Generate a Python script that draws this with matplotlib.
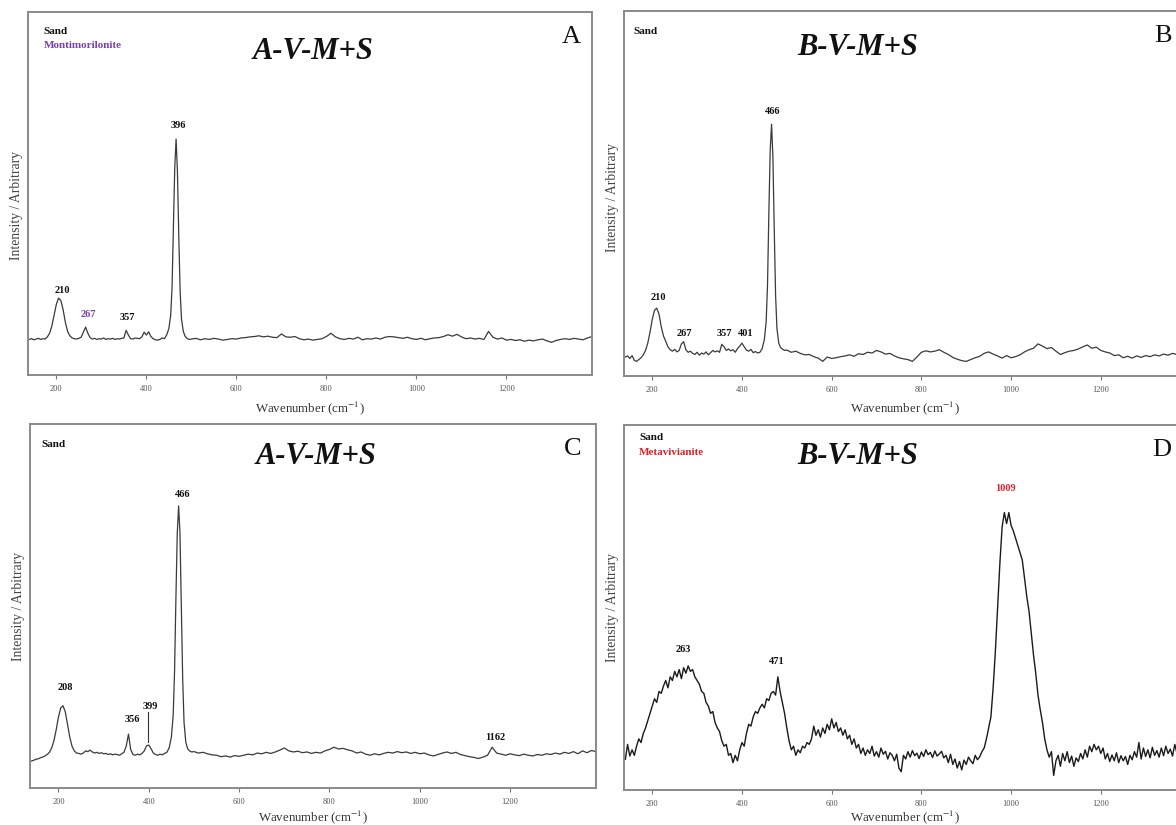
import numpy as np
import matplotlib
matplotlib.use("Agg")
import matplotlib.pyplot as plt

plt.rcParams['font.family'] = ['Liberation Serif', 'DejaVu Serif']
plt.rcParams['mathtext.fontset'] = 'stix'

# ---------------- data (wavenumber cm-1, intensity as % of axis height) -------------
seg1_x = list(range(140, 440, 5))
seg2_x = [440, 445, 450, 454, 457, 460, 463, 466, 469, 472, 475, 478, 482, 486, 490, 495]
seg3_x = list(range(500, 1400, 10))
wn_abc = seg1_x + seg2_x + seg3_x

a_int = [
    # 140..435
    9.8, 10.0, 9.7, 9.9, 10.1, 9.8, 10.0, 9.9, 10.5, 11.5, 13.5, 16.5, 19.5, 21.2, 20.5, 18.0,
    14.5, 12.0, 10.8, 10.2, 10.0, 9.9, 10.1, 10.4, 11.8, 13.2, 11.5, 10.3, 9.9, 10.1, 9.8, 10.0,
    9.9, 10.2, 9.8, 10.0, 9.9, 10.1, 9.8, 10.0, 9.9, 10.1, 10.2, 12.3, 11.0, 10.0, 9.9, 10.2,
    10.1, 10.0, 10.5, 11.8, 11.0, 11.9, 10.6, 10.0, 9.7, 9.6, 9.8, 10.2,
    # 440..495
    10.0, 11.0, 12.8, 16.5, 24.0, 40.0, 57.0, 65.0, 56.0, 38.0, 23.0, 15.5, 12.0, 10.7, 10.1, 9.8,
    # 500..1390
    9.9, 10.1, 9.7, 10.0, 9.8, 10.1, 9.9, 9.6, 9.8, 10.0, 9.9, 10.2, 10.3, 10.5, 10.6, 10.8,
    10.5, 10.7, 10.4, 10.3, 11.3, 10.5, 10.4, 10.6, 10.0, 9.7, 9.9, 9.6, 9.8, 10.0, 10.6, 11.5,
    10.5, 10.0, 9.8, 10.1, 9.9, 10.4, 9.7, 10.0, 9.9, 10.2, 9.9, 10.4, 10.6, 10.5, 10.3, 10.1,
    10.4, 10.0, 9.8, 10.1, 9.7, 10.0, 10.2, 10.3, 10.6, 11.1, 10.7, 11.2, 10.5, 10.0, 10.2, 9.9,
    10.1, 9.8, 12.0, 10.4, 9.9, 10.2, 9.6, 9.8, 9.5, 9.7, 9.3, 9.6, 9.4, 9.7, 9.9, 9.4,
    9.0, 9.5, 9.8, 10.0, 9.8, 10.1, 9.9, 9.7, 10.2, 10.6,
]

b_int = [
    # 140..435
    5.2, 5.5, 4.8, 5.6, 4.3, 4.0, 4.5, 5.0, 5.8, 7.0, 9.0, 12.0, 15.5, 18.0, 18.6, 17.0,
    13.5, 11.0, 9.5, 8.0, 7.2, 6.8, 7.3, 6.6, 7.0, 8.8, 9.4, 7.2, 6.5, 6.8, 6.2, 5.9,
    6.5, 5.7, 6.3, 6.0, 6.6, 5.8, 6.4, 7.0, 6.6, 6.9, 6.5, 8.7, 8.0, 7.0, 7.4, 6.9,
    7.2, 6.5, 7.5, 8.2, 9.0, 8.0, 7.1, 6.8, 7.3, 6.4, 6.7, 6.3,
    # 440..495
    6.5, 7.5, 10.0, 15.0, 25.0, 45.0, 62.0, 69.0, 60.0, 40.0, 22.0, 13.0, 9.0, 7.8, 7.4, 7.0,
    # 500..1390
    7.1, 6.5, 6.8, 6.2, 5.8, 5.9, 5.3, 4.9, 4.0, 5.2, 4.8, 5.0, 5.3, 5.5, 5.8, 5.4,
    6.1, 5.9, 6.5, 6.3, 7.0, 6.6, 6.0, 6.2, 5.5, 5.0, 4.7, 4.5, 4.0, 5.2, 6.5, 6.9,
    6.6, 6.8, 7.2, 6.5, 5.9, 5.1, 4.6, 4.2, 4.0, 4.5, 5.0, 5.4, 6.2, 6.6, 6.0, 5.5,
    4.9, 5.6, 5.0, 5.3, 5.8, 6.6, 7.2, 7.6, 8.8, 8.2, 7.5, 7.8, 6.8, 5.9, 6.4, 6.8,
    7.0, 7.4, 8.0, 8.5, 7.6, 7.9, 7.0, 6.6, 6.3, 5.6, 5.8, 5.0, 5.4, 4.9, 5.5, 5.1,
    5.6, 5.3, 5.8, 5.5, 6.0, 5.7, 6.2, 5.9, 6.4, 6.0,
]

c_int = [
    # 140..435
    7.4, 7.6, 7.9, 8.0, 8.3, 8.5, 8.8, 9.2, 9.8, 11.0, 13.0, 16.0, 19.5, 22.0, 22.6, 21.0,
    17.5, 14.0, 11.5, 10.2, 9.6, 9.5, 9.3, 9.6, 10.2, 10.0, 10.4, 9.9, 9.6, 9.8, 9.5, 9.7,
    9.4, 9.5, 9.2, 9.4, 9.1, 9.3, 9.2, 9.0, 9.4, 9.8, 11.5, 14.8, 10.5, 9.2, 9.0, 9.3,
    9.1, 9.5, 10.2, 11.6, 11.8, 10.8, 9.6, 9.2, 9.0, 9.3, 9.1, 9.5,
    # 440..495
    9.8, 11.0, 14.0, 20.0, 32.0, 52.0, 70.0, 77.5, 70.0, 50.0, 30.0, 18.0, 12.5, 10.8, 10.2, 9.9,
    # 500..1390
    10.0, 9.6, 9.8, 9.4, 9.1, 9.0, 8.6, 8.8, 8.5, 8.9, 8.7, 9.0, 9.3, 9.1, 9.6, 9.4,
    9.8, 9.5, 9.9, 10.4, 11.0, 10.2, 9.9, 10.1, 9.7, 9.9, 9.5, 9.8, 9.6, 10.2, 10.6, 11.2,
    10.7, 10.9, 10.5, 10.2, 9.6, 9.9, 9.3, 9.0, 9.4, 9.1, 9.5, 9.8, 9.6, 10.0, 9.7, 9.9,
    9.5, 9.8, 9.4, 9.6, 9.1, 8.8, 9.2, 9.6, 9.9, 9.5, 9.8, 9.2, 8.9, 8.6, 8.4, 8.1,
    8.5, 9.0, 11.2, 9.6, 9.3, 9.0, 9.4, 9.1, 8.9, 9.3, 9.0, 8.8, 9.2, 9.0, 9.4, 9.2,
    9.6, 9.3, 9.8, 9.5, 10.0, 9.4, 10.2, 9.7, 10.3, 10.0,
]

wn_d = list(range(140, 1395, 5))
d_int = [
    8.4, 12.5, 9.3, 11.0, 9.5, 12.0, 14.0, 13.0, 15.5, 17.0,      # 140
    19.0, 21.0, 23.0, 25.0, 24.0, 27.0, 26.5, 28.5, 30.0, 28.0,   # 190
    31.0, 30.0, 32.5, 31.0, 33.0, 30.5, 33.5, 32.0, 34.0, 32.5,   # 240
    33.0, 31.0, 30.0, 29.0, 27.0, 26.5, 24.0, 23.0, 21.0, 21.5,   # 290
    18.5, 17.0, 16.0, 13.5, 12.0, 12.5, 9.5, 10.0, 7.5, 9.5,      # 340
    8.0, 11.0, 13.0, 12.0, 15.5, 18.0, 17.5, 20.0, 21.5, 21.0,    # 390
    22.5, 23.5, 22.5, 25.0, 24.5, 26.5, 27.0, 26.0, 31.0, 27.0,   # 440
    24.0, 21.0, 17.0, 13.5, 11.0, 12.0, 9.5, 11.0, 10.2, 12.0,    # 490
    11.5, 13.0, 12.5, 14.0, 17.5, 15.0, 16.5, 14.5, 17.0, 15.5,   # 540
    18.0, 16.5, 19.5, 17.0, 18.5, 16.0, 17.0, 15.0, 16.5, 14.0,   # 590
    15.0, 12.5, 14.0, 11.5, 12.5, 10.0, 11.5, 9.5, 11.0, 10.0,    # 640
    12.0, 9.3, 10.5, 9.0, 11.5, 9.8, 10.6, 8.5, 10.2, 9.5,        # 690
    8.0, 9.8, 6.0, 5.0, 9.5, 8.5, 10.5, 9.0, 10.8, 9.4,           # 740
    10.1, 8.6, 10.4, 9.2, 11.0, 9.7, 10.3, 8.9, 10.7, 9.3,        # 790
    9.9, 10.6, 8.8, 9.5, 7.5, 9.8, 7.0, 8.5, 6.0, 7.8,            # 840
    5.5, 8.2, 7.0, 9.0, 8.0, 7.2, 9.5, 8.3, 9.1, 10.5,            # 890
    11.5, 14.0, 17.0, 20.0, 28.0, 38.0, 50.0, 62.0, 72.0, 76.0,   # 940
    73.0, 76.0, 72.5, 71.0, 69.0, 67.0, 65.0, 63.0, 58.0, 53.0,   # 990
    49.0, 43.0, 37.0, 32.0, 26.0, 22.0, 18.5, 14.0, 11.0, 9.0,    # 1040
    10.5, 4.0, 8.0, 9.5, 6.5, 10.0, 8.0, 10.5, 7.5, 9.3,          # 1090
    6.5, 8.8, 7.8, 10.0, 8.5, 11.0, 9.0, 12.0, 10.5, 12.5,        # 1140
    11.0, 12.0, 10.0, 11.5, 8.5, 10.0, 7.8, 9.6, 8.0, 10.2,       # 1190
    7.5, 9.4, 8.0, 9.2, 7.0, 9.5, 8.3, 10.5, 9.0, 13.0,           # 1240
    8.5, 11.5, 9.2, 11.0, 8.8, 11.7, 9.5, 10.8, 9.0, 11.5,        # 1290
    9.4, 12.0, 10.0, 11.2, 9.3, 12.5, 10.0, 11.0, 9.6, 11.8,      # 1340
    10.2,                                                         # 1390
]

tick_vals = [200, 400, 600, 800, 1000, 1200]

titles = ["A-V-M+S", "B-V-M+S", "A-V-M+S", "B-V-M+S"]
letters = ["A", "B", "C", "D"]

# peak labels: (text, x, y, colour)
labels_a = [("210", 214, 22.0, "#111"), ("267", 272, 15.5, "#7a3fb0"),
            ("357", 358, 14.5, "#111"), ("396", 470, 67.5, "#111")]
labels_b = [("210", 214, 20.3, "#111"), ("267", 272, 10.5, "#111"),
            ("357", 361, 10.5, "#111"), ("401", 408, 10.5, "#111"),
            ("466", 468, 71.3, "#111")]
labels_c = [("208", 216, 26.4, "#111"), ("356", 363, 17.6, "#111"),
            ("399", 403, 21.2, "#111"), ("466", 474, 79.5, "#111"),
            ("1162", 1167, 12.7, "#111")]
labels_d = [("263", 270, 37.3, "#111"), ("471", 477, 34.0, "#111"),
            ("1009", 988, 81.4, "#e0202a")]

mineral = [("Montimorilonite", "#7a3fb0"), None, None, ("Metavivianite", "#e0202a")]

# ---------------- figure --------------------------------------------------------------
W, H = 1176, 825
fig = plt.figure(figsize=(W / 100, H / 100), dpi=100)

def px_axes(l, t, r, b):
    return fig.add_axes([l / W, 1 - b / H, (r - l) / W, (b - t) / H])

boxes = [(28, 12, 592, 375), (624, 11, 1186, 376), (30, 424, 596, 788), (624, 425, 1186, 790)]
series = [(wn_abc, a_int), (wn_abc, b_int), (wn_abc, c_int), (wn_d, d_int)]
all_labels = [labels_a, labels_b, labels_c, labels_d]
title_x = [0.505, 0.415, 0.505, 0.415]
title_y = [0.89, 0.90, 0.91, 0.915]
letter_x = [0.98, 0.974, 0.974, 0.974]
sand_x = [0.028, 0.016, 0.02, 0.027]
sand_y = [(0.945, 0.907), (0.945, None), (0.945, None), (0.967, 0.926)]
xlab_y = [-0.091, -0.088, -0.080, -0.075]
ylab_y = [0.468, 0.49, 0.5, 0.5]

for i, (box, (x, y)) in enumerate(zip(boxes, series)):
    ax = px_axes(*box)
    lw_line = 0.9 if i < 3 else 1.0
    col = "#3a3a3a" if i < 3 else "#1a1a1a"
    ax.plot(x, y, color=col, lw=lw_line)
    ax.set_xlim(137, 1390)
    ax.set_ylim(0, 100)
    ax.set_yticks([])
    ax.set_xticks(tick_vals)
    ax.tick_params(axis='x', length=3, width=0.8, color="#777", pad=4,
                   labelsize=6, labelcolor="#555")
    for s in ax.spines.values():
        s.set_color("#8a8a8a")
        s.set_linewidth(1.4)
    ax.text(0.5, xlab_y[i], r"Wavenumber (cm$^{-1}$)", transform=ax.transAxes,
            ha='center', va='center', fontsize=9.3, color="#333")
    ax.set_ylabel("Intensity / Arbitrary", fontsize=9.8, color="#444")
    ax.yaxis.set_label_coords(-0.009, ylab_y[i])

    ax.text(title_x[i], title_y[i], titles[i], transform=ax.transAxes, ha='center',
            va='center', fontsize=22, fontweight='bold', fontstyle='italic', color="#111")
    ax.text(letter_x[i], 0.932, letters[i], transform=ax.transAxes, ha='right',
            va='center', fontsize=19, color="#111")
    ax.text(sand_x[i], sand_y[i][0], "Sand", transform=ax.transAxes, ha='left',
            va='center', fontsize=8, fontweight='bold', color="#111")
    if mineral[i] is not None:
        ax.text(sand_x[i], sand_y[i][1], mineral[i][0], transform=ax.transAxes, ha='left',
                va='center', fontsize=8, fontweight='bold', color=mineral[i][1])
    for txt, lx, ly, lc in all_labels[i]:
        ax.text(lx, ly, txt, ha='center', va='bottom', fontsize=7.5, fontweight='bold',
                color=lc)
    if i == 2:
        ax.plot([399, 399], [12.6, 20.9], color="#333", lw=0.8)

fig.savefig("out.png", dpi=100)
